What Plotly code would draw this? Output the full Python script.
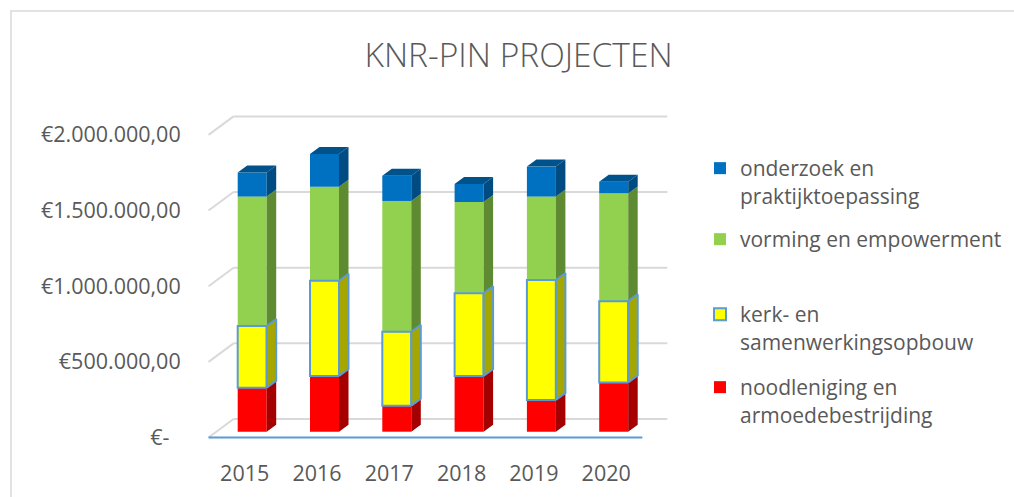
import plotly.graph_objects as go

# ---------------- data ----------------
years = ["2015", "2016", "2017", "2018", "2019", "2020"]
noodleniging = [291000, 368000, 172000, 368000, 210000, 326000]
kerk_opbouw = [408000, 630000, 489000, 547000, 793000, 537000]
vorming = [855000, 621000, 864000, 603000, 551000, 712000]
onderzoek = [159000, 216000, 167000, 119000, 198000, 77000]

y_tickvals = [0, 500000, 1000000, 1500000, 2000000]
y_ticktext = ["€-\u00a0\u00a0", "€500.000,00", "€1.000.000,00", "€1.500.000,00", "€2.000.000,00"]

names = {
    "nood": "noodleniging en<br>armoedebestrijding",
    "kerk": "kerk- en<br>samenwerkingsopbouw",
    "vorm": "vorming en empowerment",
    "onder": "onderzoek en<br>praktijktoepassing",
}

# ---------------- styling / geometry (pixels) ----------------
W, H = 1014, 497
L, R, T, B = 190, 1014, 90, 458
PX_X = 72.3            # px per category
BAR0_X = 252.2         # px of first bar centre (front face)
PX_Y = 151.3 / 1e6     # px per euro
BAR0_Y = 431.7         # px of zero at bar plane
BAR_W = 29 / PX_X
SIDE_DX = 9.5 / PX_X
SIDE_DY = 7.0 / PX_Y
FRONT_DX, FRONT_DY = -7.5 / PX_X, -5.8 / PX_Y
BACK_DX, BACK_DY = 17.5 / PX_X, 12.7 / PX_Y
WALL_X0, WALL_X1 = -0.5, 5.5

TXT = "#595959"
FONT = "Open Sans"
GRID = "#d9d9d9"
AXBLUE = "#5B9BD5"

x_range = [(L - BAR0_X) / PX_X, (R - BAR0_X) / PX_X]
y_range = [(BAR0_Y - B) / PX_Y, (BAR0_Y - T) / PX_Y]
FRONT0_Y = BAR0_Y + 5.8
y2_range = [(FRONT0_Y - B) / PX_Y, (FRONT0_Y - T) / PX_Y]


def pxx(p):
    return (p - L) / (R - L)


def pxy(p):
    return (B - p) / (B - T)


series = [
    ("nood", noodleniging, "#FF0000", "#A50000", "legend4"),
    ("kerk", kerk_opbouw, "#FFFF00", "#A6A600", "legend3"),
    ("vorm", vorming, "#92D050", "#5E8B32", "legend2"),
    ("onder", onderzoek, "#0070C0", "#004C82", "legend"),
]

idx = list(range(len(years)))
bases = {}
acc = [0] * len(years)
for key, vals, _, _, _ in series:
    bases[key] = acc[:]
    acc = [a + v for a, v in zip(acc, vals)]
totals = acc

fig = go.Figure()

# front faces (yellow last so its outline stays on top)
order = ["nood", "vorm", "onder", "kerk"]
sdict = {s[0]: s for s in series}
for key in order:
    _, vals, col, side, leg = sdict[key]
    is_kerk = key == "kerk"
    fig.add_trace(go.Bar(
        x=idx, y=vals, base=bases[key], width=BAR_W,
        name=names[key], legend=leg,
        marker=dict(color=col,
                    line=dict(color=AXBLUE if is_kerk else col, width=2 if is_kerk else 0)),
        hoverinfo="skip",
    ))

# side faces
for key in order:
    _, vals, col, side, leg = sdict[key]
    xs, ys = [], []
    for i in idx:
        xr = i + BAR_W / 2
        y0 = bases[key][i]
        y1 = y0 + vals[i]
        xs += [xr, xr + SIDE_DX, xr + SIDE_DX, xr, xr, None]
        ys += [y0, y0 + SIDE_DY, y1 + SIDE_DY, y1, y0, None]
    is_kerk = key == "kerk"
    fig.add_trace(go.Scatter(
        x=xs, y=ys, fill="toself", fillcolor=side,
        mode="lines" if is_kerk else "none",
        line=dict(color=AXBLUE, width=2) if is_kerk else dict(width=0),
        showlegend=False, hoverinfo="skip",
    ))
    if key == "onder":
        tx, ty = [], []
        for i in idx:
            xl, xr = i - BAR_W / 2, i + BAR_W / 2
            t = totals[i]
            tx += [xl, xl + SIDE_DX, xr + SIDE_DX, xr, xl, None]
            ty += [t, t + SIDE_DY, t + SIDE_DY, t, t, None]
        fig.add_trace(go.Scatter(
            x=tx, y=ty, fill="toself", fillcolor="#00528C", mode="none",
            showlegend=False, hoverinfo="skip",
        ))

# dummy trace for the front-plane label axis
fig.add_trace(go.Scatter(x=[0], y=[0], yaxis="y2", mode="markers",
                         marker=dict(opacity=0), showlegend=False, hoverinfo="skip"))

shapes = []
# back wall gridlines + left diagonals
for v in y_tickvals:
    shapes.append(dict(type="line", xref="x", yref="y", layer="below",
                       x0=WALL_X0 + BACK_DX, x1=WALL_X1 + BACK_DX,
                       y0=v + BACK_DY, y1=v + BACK_DY,
                       line=dict(color=GRID, width=2)))
    shapes.append(dict(type="line", xref="x", yref="y", layer="below",
                       x0=WALL_X0 + FRONT_DX, x1=WALL_X0 + BACK_DX,
                       y0=v + FRONT_DY, y1=v + BACK_DY,
                       line=dict(color=GRID, width=2)))
# floor front edge
shapes.append(dict(type="line", xref="x", yref="y", layer="below",
                   x0=WALL_X0 + FRONT_DX, x1=WALL_X1 + FRONT_DX,
                   y0=FRONT_DY, y1=FRONT_DY,
                   line=dict(color=AXBLUE, width=2)))
# chart border
shapes.append(dict(type="rect", xref="paper", yref="paper",
                   x0=pxx(11), x1=pxx(1100), y0=pxy(600), y1=pxy(11),
                   line=dict(color=GRID, width=1.5), fillcolor="rgba(0,0,0,0)"))

legend_font = dict(family=FONT, size=21, color=TXT)


def leg(xpx, ypx):
    return dict(x=pxx(xpx), y=pxy(ypx), xanchor="left", yanchor="top",
                xref="paper", yref="paper", font=legend_font, valign="top",
                bgcolor="rgba(0,0,0,0)", itemclick=False, itemdoubleclick=False)


fig.update_layout(
    width=W, height=H,
    margin=dict(l=L, r=W - R, t=T, b=H - B),
    paper_bgcolor="white", plot_bgcolor="white",
    barmode="overlay",
    font=dict(family=FONT, color=TXT),
    title=dict(text="KNR-PIN PROJECTEN", xref="container", yref="container",
               x=518.5 / W, y=1 - 55.5 / H, xanchor="center", yanchor="middle",
               font=dict(family=FONT, size=33.5, color=TXT, weight=300)),
    xaxis=dict(range=x_range, showgrid=False, zeroline=False, showline=False,
               tickvals=[i + FRONT_DX for i in idx], ticktext=years,
               ticks="", tickfont=dict(family=FONT, size=21.5, color=TXT)),
    yaxis=dict(range=y_range, visible=False),
    yaxis2=dict(range=y2_range, overlaying="y", side="left", showgrid=False,
                zeroline=False, showline=False, tickvals=y_tickvals, ticktext=y_ticktext,
                ticks="outside", ticklen=4, tickcolor="rgba(0,0,0,0)",
                tickfont=dict(family=FONT, size=21.5, color=TXT)),
    shapes=shapes,
    legend=leg(700, 148),
    legend2=leg(700, 219),
    legend3=leg(700, 294),
    legend4=leg(700, 367),
    showlegend=True,
)

fig.write_html("out.html", config={"displayModeBar": False},
               post_script="document.body.style.margin='0';")
